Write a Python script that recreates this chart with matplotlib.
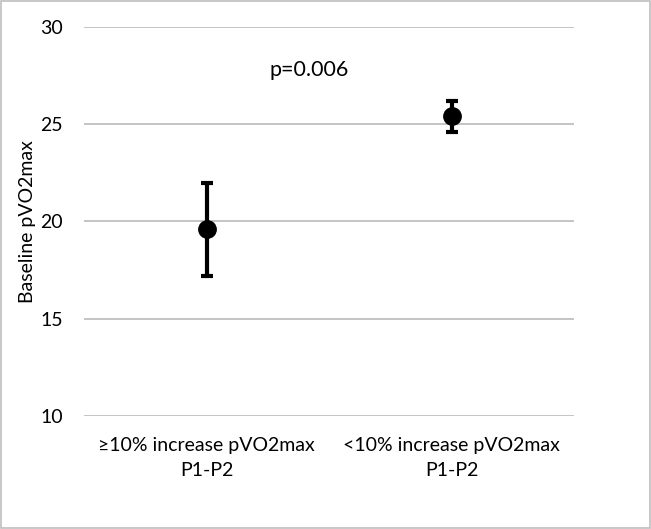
import matplotlib
matplotlib.use("Agg")
import matplotlib.pyplot as plt
from matplotlib.patches import Rectangle

categories = ["\u226510% increase pVO2max\nP1-P2", "<10% increase pVO2max\nP1-P2"]
means = [19.6, 25.4]
lower = [17.2, 24.6]
upper = [22.0, 26.2]
yticks = [10, 15, 20, 25, 30]
annotation = "p=0.006"

plt.rcParams['font.family'] = ['Lato', 'DejaVu Sans']

fig = plt.figure(figsize=(6.51, 5.29), dpi=100)
ax = fig.add_axes([84/651, 1 - 416/529, (574-84)/651, (416-27)/529])

x = list(range(len(categories)))
yerr = [[m - l for m, l in zip(means, lower)], [u - m for m, u in zip(means, upper)]]
ax.errorbar(x, means, yerr=yerr, fmt='o', color='black', markersize=12.5,
            elinewidth=3, capsize=4, capthick=3, zorder=3)

ax.set_xlim(-0.5, 1.5)
ax.set_ylim(10, 30)
ax.set_yticks(yticks)
ax.set_xticks(x)
ax.set_xticklabels(categories, fontsize=14, linespacing=1.55)
ax.tick_params(axis='y', length=0, pad=15, labelsize=14)
ax.tick_params(axis='x', length=0, pad=15)
ax.grid(axis='y', color='#bfbfbf', linewidth=1.3)
ax.set_axisbelow(True)
for s in ax.spines.values():
    s.set_visible(False)
ax.set_ylabel("Baseline pVO2max", fontsize=14, labelpad=3)
ax.text(0.42, 27.8, annotation, fontsize=15.5, ha='center', va='center')

fig.patches.append(Rectangle((1/651, 1/529), 649/651, 527/529, transform=fig.transFigure,
                             fill=False, edgecolor='#bfbfbf', linewidth=1.2))

fig.savefig("out.png", dpi=100)
